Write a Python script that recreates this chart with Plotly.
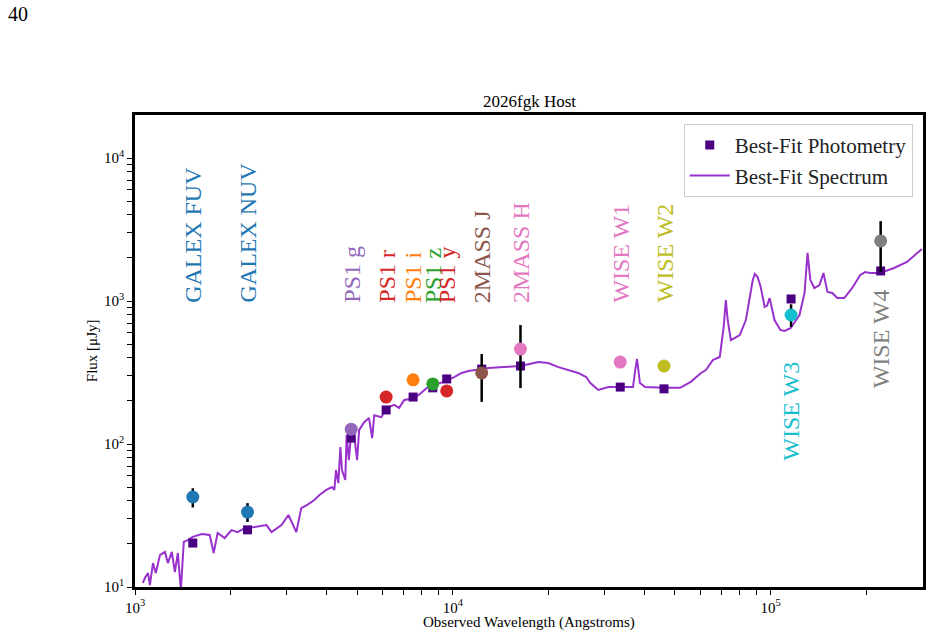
import plotly.graph_objects as go
import numpy as np

# ---- data ----
bands = ['GALEX FUV', 'GALEX NUV', 'PS1 g', 'PS1 r', 'PS1 i', 'PS1 z', 'PS1 y',
         '2MASS J', '2MASS H', 'WISE W1', 'WISE W2', 'WISE W3', 'WISE W4']
band_wave = [1520, 2260, 4790, 6170, 7500, 8650, 9570, 12330, 16330, 33650, 46200, 116000, 222000]
obs_flux = [42.6, 33.4, 127, 213, 281, 263, 235, 314, 461, 374, 351, 798, 2630]
obs_err_hi = [6.4, 5.2, 6, 8, 8, 8, 8, 112, 218, 10, 12, 150, 990]
obs_err_lo = [6.6, 4.9, 6, 8, 8, 8, 8, 117, 215, 10, 12, 140, 1033]
model_flux = [20.3, 25.1, 110, 173, 213, 247, 285, 334, 351, 250, 243, 1033, 1622]
band_colors = ['#1f77b4', '#1f77b4', '#9467bd', '#d62728', '#ff7f0e', '#2ca02c', '#d62728',
               '#8c564b', '#e377c2', '#e377c2', '#bcbd22', '#17becf', '#7f7f7f']
label_y = [1000, 1000, 1000, 1000, 1000, 1000, 1000, 1000, 1000, 1000, 1000, 386, 1250]
label_anchor = ['bottom'] * 11 + ['top', 'top']

spec_wave = [1059, 1075, 1099, 1114, 1139, 1163, 1198, 1242, 1269, 1306, 1335, 1364, 1394,
             1424, 1466, 1519, 1621, 1718, 1768, 1820, 1915, 2013, 2103, 2213, 2379, 2593,
             2689, 2891, 3040, 3218, 3336, 3485, 3667, 3806, 4000, 4165, 4240, 4290, 4363,
             4429, 4480, 4588, 4634, 4710, 4780, 4900, 5000, 5072, 5260, 5450, 5575, 5660,
             5955, 6210, 6535, 6780, 7035, 7560, 7950, 8290, 8720, 9380, 10100, 10660,
             11200, 12970, 14460, 16330, 18600, 19960, 21500, 24800, 26300, 27100, 28700,
             30900, 33600, 36900, 37500, 38000, 38800, 40300, 46200, 51900, 56100, 60400,
             62600, 65800, 69200, 71200, 72300, 73300, 75000, 80000, 83600, 87900, 89200,
             91000, 93100, 95800, 97500, 99300, 102900, 105200, 107400, 110600, 115600,
             123300, 127900, 130700, 133400, 137300, 142500, 146700, 151000, 156400,
             162200, 170600, 180700, 191500, 198500, 205800, 221200, 244600, 268700, 299200]
spec_flux = [10.7, 11.6, 12.5, 10.3, 14.7, 12.5, 16.7, 17.6, 14.7, 17.6, 12.7, 17.3, 9.5,
             20.7, 21.3, 22.4, 23.5, 23.1, 17.3, 23.9, 22.0, 25.0, 24.2, 25.8, 26.3, 27.1,
             24.2, 27.1, 31.9, 24.2, 35.6, 37.5, 40.6, 44.0, 47.7, 50.0, 47.7, 65.8, 53.3,
             95.3, 65.8, 56.0, 115.7, 77, 115, 112, 77, 125, 142, 152, 110, 159,
             154, 179, 188, 179, 203, 209, 227, 247, 259, 272, 294, 314,
             324, 340, 345, 351, 374, 368, 345, 314, 294, 267, 239,
             250, 250, 250, 329, 393, 267, 250, 247, 247, 272, 314,
             329, 386, 406, 658, 1016, 736, 533, 578, 736, 1403, 1545,
             1470, 1254, 908, 930, 1049, 736, 679, 627, 617, 645,
             797, 1138, 2168, 1403, 1233, 1294, 1571, 1156, 1138,
             1049, 1049, 1233, 1520, 1593, 1571, 1571, 1702, 1875, 2310]

x_major = [1e3, 1e4, 1e5]
x_major_text = ['10<sup>3</sup>', '10<sup>4</sup>', '10<sup>5</sup>']
y_major = [1e1, 1e2, 1e3, 1e4]
y_major_text = ['10<sup>1</sup>', '10<sup>2</sup>', '10<sup>3</sup>', '10<sup>4</sup>']
x_minor = [k * 10 ** e for e in (3, 4, 5) for k in range(2, 10) if k * 10 ** e < 3.0e5]
y_minor = [k * 10 ** e for e in (1, 2, 3) for k in range(2, 10)]

SERIF = "Liberation Serif"
XR = [3, 3 + 791 / 319]
YR = [1, 4 + 43 / 143]

fig = go.Figure()

fig.add_trace(go.Scatter(
    x=spec_wave, y=spec_flux, mode='lines', name='Best-Fit Spectrum',
    line=dict(color='#9932CC', width=2), legendrank=2))

fig.add_trace(go.Scatter(
    x=band_wave, y=model_flux, mode='markers', name='Best-Fit Photometry',
    marker=dict(symbol='square', size=9, color='#4B0082'), legendrank=1))

fig.add_trace(go.Scatter(
    x=band_wave, y=obs_flux, mode='markers', showlegend=False,
    marker=dict(symbol='circle', size=13, color=band_colors),
    error_y=dict(type='data', symmetric=False, array=obs_err_hi, arrayminus=obs_err_lo,
                 color='black', thickness=2.5, width=0)))

for b, w, ly, anc, c in zip(bands, band_wave, label_y, label_anchor, band_colors):
    fig.add_annotation(x=np.log10(w), y=np.log10(ly), xref='x', yref='y', text=b,
                       textangle=-90, showarrow=False, xanchor='center', yanchor=anc,
                       yshift=-4 if anc == 'bottom' else 0,
                       font=dict(family=SERIF, size=24, color=c))

fig.add_annotation(x=0.5, y=1, xref='paper', yref='paper', text='2026fgk Host',
                   showarrow=False, xanchor='center', yanchor='bottom', yshift=2,
                   font=dict(family=SERIF, size=17, color='black'))
fig.add_annotation(x=(92 - 135) / 791, y=0.5, xref='paper', yref='paper', text='Flux [μJy]',
                   showarrow=False, textangle=-90, xanchor='center', yanchor='middle',
                   font=dict(family=SERIF, size=15, color='black'))
fig.add_annotation(x=0.5, y=(587 - 622) / 472, xref='paper', yref='paper',
                   text='Observed Wavelength (Angstroms)', showarrow=False,
                   xanchor='center', yanchor='middle',
                   font=dict(family=SERIF, size=15, color='black'))
fig.add_annotation(x=(6 - 135) / 791, y=(587 - 14) / 472, xref='paper', yref='paper', text='40',
                   showarrow=False, xanchor='left', yanchor='middle',
                   font=dict(family=SERIF, size=20, color='black'))

axis_common = dict(type='log', showline=True, linewidth=2.5, linecolor='black', mirror=True,
                   ticks='outside', ticklen=5, tickwidth=1.1, tickcolor='black',
                   showgrid=False, zeroline=False,
                   tickfont=dict(family=SERIF, size=15, color='black'))

fig.update_layout(
    width=935, height=636,
    margin=dict(l=135, r=9, t=115, b=49),
    paper_bgcolor='white', plot_bgcolor='white',
    showlegend=True,
    xaxis=dict(range=XR, tickmode='array', tickvals=x_major + x_minor,
               ticktext=x_major_text + [''] * len(x_minor), **axis_common),
    yaxis=dict(range=YR, tickmode='array', tickvals=y_major + y_minor,
               ticktext=y_major_text + [''] * len(y_minor), **axis_common),
    legend=dict(x=0.987, y=0.981, xanchor='right', yanchor='top',
                bgcolor='rgba(255,255,255,0.8)', bordercolor='#cccccc', borderwidth=1,
                font=dict(family=SERIF, size=21, color='#222222'), traceorder='normal',
                itemwidth=40),
)

fig.write_html("out.html")
